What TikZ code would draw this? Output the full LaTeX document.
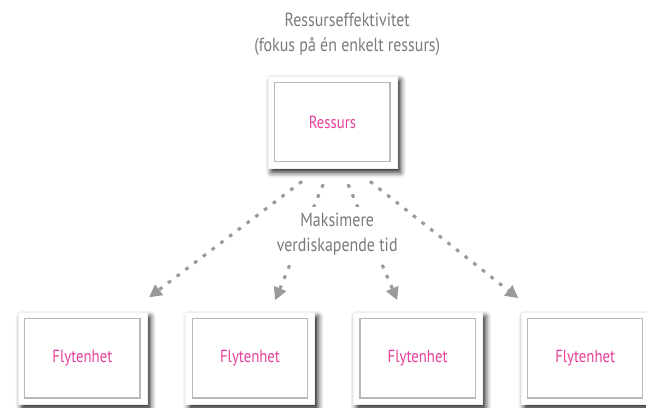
\documentclass[tikz,border=0pt]{standalone}
\usepackage{fontspec}
\setmainfont{PT Sans}[FakeStretch=0.84]
\usepackage{xcolor}
\usepackage{tikz}
\usetikzlibrary{arrows.meta,positioning,calc,shadows.blur}
\definecolor{flowpink}{HTML}{E8409A}
\definecolor{capgray}{HTML}{7A7A7A}
\definecolor{arrowgray}{HTML}{9A9A9C}
\tikzset{
  boxframe/.style={draw=gray!12, fill=white, line width=0.3pt,
    minimum width=3.22cm, minimum height=2.3cm,
    blur shadow={shadow xshift=2.5pt, shadow yshift=-3pt,
      shadow blur radius=4pt, shadow opacity=90}},
  boxinner/.style={draw=gray!55, fill=white, line width=0.8pt,
    minimum width=2.88cm, minimum height=1.98cm,
    text=flowpink, font=\fontsize{12.5}{15}\selectfont},
  captext/.style={text=capgray, align=center,
    font=\fontsize{13.5}{17.5}\selectfont},
  flowarrow/.style={arrowgray, line width=2.2pt,
    dash pattern=on 2.6pt off 5.2pt,
    -{Triangle[length=9pt, width=9pt]}},
}

\begin{document}
\begin{tikzpicture}[x=1cm, y=1cm]

\useasboundingbox (0,0) rectangle (16.15,-10.2);

%% ── Resource on top ──────────────────────────────────────────────────────
\node[captext] (title) at (8.68,-0.86)
  {Ressurseffektivitet\\(fokus på én enkelt ressurs)};

\node[boxframe] (res) at (8.31,-3.05) {};
\node[boxinner] (resin) at (res) {Ressurs};

%% ── Flow units ───────────────────────────────────────────────────────────
\node[boxframe] (fl1) at (2.06,-8.96) {};
\node[boxinner] (fl1in) at (fl1) {Flytenhet};
\node[boxframe] (fl2) at (6.25,-8.96) {};
\node[boxinner] (fl2in) at (fl2) {Flytenhet};
\node[boxframe] (fl3) at (10.44,-8.96) {};
\node[boxinner] (fl3in) at (fl3) {Flytenhet};
\node[boxframe] (fl4) at (14.63,-8.96) {};
\node[boxinner] (fl4in) at (fl4) {Flytenhet};

%% ── Arrows ───────────────────────────────────────────────────────────────
\draw[flowarrow] ($(res.south)+(-0.76,-0.33)$) -- ($(fl1.north east)+(0.05,0.37)$);
\draw[flowarrow] ($(res.south)+(-0.23,-0.4)$) -- ($(fl2.north)+(0.63,0.3)$);
\draw[flowarrow] ($(res.south)+(0.39,-0.4)$) -- ($(fl3.north)+(-0.51,0.3)$);
\draw[flowarrow] ($(res.south)+(0.94,-0.33)$) -- ($(fl4.north west)+(-0.06,0.35)$);

\node[captext, fill=white, inner sep=4pt] (goal) at (8.43,-5.85)
  {Maksimere\\verdiskapende tid};

\end{tikzpicture}
\end{document}
